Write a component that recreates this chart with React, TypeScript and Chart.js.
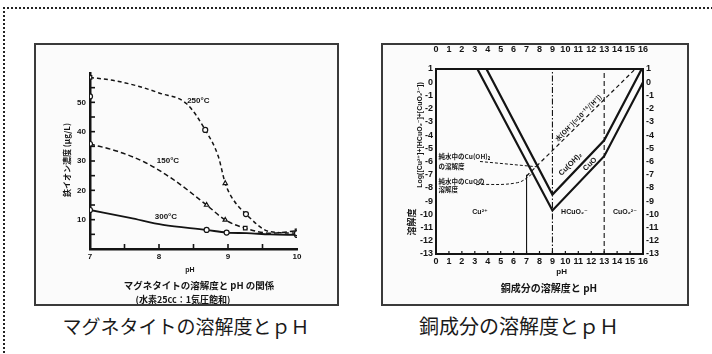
import React, { useEffect, useRef } from "react";
import { Chart, registerables } from "chart.js";
Chart.register(...registerables);

// ---------------- Magnetite solubility (left figure) ----------------
const magTickPH = [7, 8, 9, 10];
const magTickFe = [10, 20, 30, 40, 50];
const magMinorPH = [7.5, 8, 8.5, 9, 9.5];
const magMinorFe = [5, 10, 15, 20, 25, 30, 35, 40, 45, 50, 55];
const magSeriesNames = ["250°C", "150°C", "300°C"];

const magPH250 = [7.0, 7.33, 7.7, 8.0, 8.4, 8.67, 8.86, 8.96, 9.05, 9.26, 9.61, 10.0];
const magFe250 = [58.5, 57.5, 55.5, 53.2, 49.5, 40.6, 31.5, 22.4, 17.8, 11.9, 5.9, 5.4];
const magPH150 = [7.0, 7.4, 7.8, 8.2, 8.69, 8.96, 9.25, 9.61, 10.0];
const magFe150 = [35.8, 33.3, 29.5, 23.8, 15.0, 9.9, 7.1, 5.4, 6.2];
const magPH300 = [7.0, 7.58, 8.06, 8.69, 8.98, 9.27, 9.61, 10.0];
const magFe300 = [13.3, 10.6, 8.2, 6.5, 5.6, 5.4, 5.0, 4.8];
const magExtraPH = [7.0];
const magExtraFe = [52.0];

// marker styles (style config, not data)
const mk250 = ["rect", "", "", "", "", "circle", "", "triangle", "", "circle", "", "circle"];
const mk150 = ["circle", "", "", "", "triangle", "triangle", "rect", "", "rect"];
const mk300 = ["circle", "", "", "circle", "circle", "", "", "circle"];

// ---------------- Copper solubility (right figure) ----------------
const cuTickPH = [0, 1, 2, 3, 4, 5, 6, 7, 8, 9, 10, 11, 12, 13, 14, 15, 16];
const cuTickLog = [1, 0, -1, -2, -3, -4, -5, -6, -7, -8, -9, -10, -11, -12, -13];
const cuSpecies = ["Cu²⁺", "HCuO₂⁻", "CuO₂²⁻"];

const cuoPH = [3.2, 9, 13, 16];
const cuoLog = [1, -9.7, -5.6, 0];
const cuohPH = [3.9, 9, 13, 15.9];
const cuohLog = [1, -8.5, -4.4, 1];
const ohPH = [7, 15.4];
const ohLog = [-7.1, 1];
const bound7PH = [7, 7];
const bound7Log = [-13, -7];
const bound9PH = [9, 9];
const bound9Log = [-13, 1];
const bound13PH = [13, 13];
const bound13Log = [-13, 1];
const arrow1PH = [3.4, 7.8];
const arrow1Log = [-6.0, -6.4];
const arrow2PH = [3.1, 6.3, 7.5];
const arrow2Log = [-7.75, -7.6, -6.9];

const INK = "#141414";
const pts = (xs: number[], ys: number[]) => xs.map((x, i) => ({ x, y: ys[i] }));

type Txt = { x: number; y: number; t: string; f: string; r?: number; a?: CanvasTextAlign; px?: boolean };
type Tk = { id: string; vals: number[]; len: number; w: number };

function makeDeco(texts: Txt[], ticks: Tk[]) {
  return {
    id: "deco",
    afterDatasetsDraw(chart: any) {
      const ctx = chart.ctx as CanvasRenderingContext2D;
      const ca = chart.chartArea;
      ctx.save();
      ctx.strokeStyle = INK;
      for (const tk of ticks) {
        const s = chart.scales[tk.id];
        ctx.lineWidth = tk.w;
        for (const v of tk.vals) {
          ctx.beginPath();
          if (s.isHorizontal()) {
            const X = s.getPixelForValue(v);
            const top = s.position === "top";
            const Y = top ? ca.top : ca.bottom;
            ctx.moveTo(X, Y);
            ctx.lineTo(X, Y + (top ? tk.len : -tk.len));
          } else {
            const Y = s.getPixelForValue(v);
            const right = s.position === "right";
            const X = right ? ca.right : ca.left;
            ctx.moveTo(X, Y);
            ctx.lineTo(X + (right ? -tk.len : tk.len), Y);
          }
          ctx.stroke();
        }
      }
      ctx.fillStyle = INK;
      ctx.textBaseline = "middle";
      for (const it of texts) {
        const X = it.px ? it.x : chart.scales.x.getPixelForValue(it.x);
        const Y = it.px ? it.y : chart.scales.y.getPixelForValue(it.y);
        ctx.save();
        ctx.translate(X, Y);
        if (it.r) ctx.rotate((it.r * Math.PI) / 180);
        ctx.font = it.f;
        ctx.textAlign = it.a || "center";
        ctx.fillText(it.t, 0, 0);
        ctx.restore();
      }
      ctx.restore();
    },
  };
}

const JP = '"Noto Sans CJK JP", "Noto Sans", sans-serif';
const LAT = '"Liberation Sans", "DejaVu Sans", sans-serif';

function MagChart() {
  const ref = useRef<HTMLCanvasElement | null>(null);
  useEffect(() => {
    if (!ref.current) return;
    const marker = (mk: string[]) => ({
      pointStyle: mk.map((m) => (m ? m : "circle")),
      pointRadius: mk.map((m) => (m ? 2.5 : 0)),
      pointBackgroundColor: "#ffffff",
      pointBorderColor: INK,
      pointBorderWidth: 1.2,
    });
    const tickFont = { family: LAT, size: 8, weight: "bold" as const };
    const chart = new Chart(ref.current, {
      type: "scatter",
      data: {
        datasets: [
          {
            label: magSeriesNames[0],
            data: pts(magPH250, magFe250),
            showLine: true,
            borderColor: INK,
            borderWidth: 1.5,
            borderDash: [4, 3],
            cubicInterpolationMode: "monotone",
            ...marker(mk250),
          } as any,
          {
            label: magSeriesNames[1],
            data: pts(magPH150, magFe150),
            showLine: true,
            borderColor: INK,
            borderWidth: 1.5,
            borderDash: [5, 3],
            cubicInterpolationMode: "monotone",
            ...marker(mk150),
          } as any,
          {
            label: magSeriesNames[2],
            data: pts(magPH300, magFe300),
            showLine: true,
            borderColor: INK,
            borderWidth: 1.8,
            cubicInterpolationMode: "monotone",
            ...marker(mk300),
          } as any,
          {
            label: "extra",
            data: pts(magExtraPH, magExtraFe),
            showLine: false,
            ...marker(["circle"]),
          } as any,
        ],
      },
      options: {
        animation: false,
        responsive: false,
        devicePixelRatio: 1,
        layout: { padding: { top: 28, right: 40, left: 0, bottom: 0 } },
        plugins: { legend: { display: false }, tooltip: { enabled: false } },
        scales: {
          x: {
            type: "linear",
            min: 7,
            max: 10,
            afterBuildTicks: (s: any) => {
              s.ticks = magTickPH.map((v) => ({ value: v }));
            },
            afterFit: (s: any) => {
              s.height = 55;
            },
            ticks: { font: tickFont, color: INK, padding: 3, maxRotation: 0, autoSkip: false },
            grid: { display: false, drawTicks: false },
            border: { color: INK, width: 2.5 },
          },
          y: {
            type: "linear",
            min: 0,
            max: 60,
            afterBuildTicks: (s: any) => {
              s.ticks = magTickFe.map((v) => ({ value: v }));
            },
            afterFit: (s: any) => {
              s.width = 54;
            },
            ticks: { font: tickFont, color: INK, padding: 4, autoSkip: false },
            grid: { display: false, drawTicks: false },
            border: { color: INK, width: 2.5 },
          },
        },
      },
      plugins: [
        makeDeco(
          [
            { x: 8.57, y: 50.4, t: magSeriesNames[0], f: `bold 8px ${LAT}` },
            { x: 8.13, y: 29.9, t: magSeriesNames[1], f: `bold 8px ${LAT}` },
            { x: 8.1, y: 10.9, t: magSeriesNames[2], f: `bold 8px ${LAT}` },
            { x: 31, y: 115, t: "鉄イオン濃度 (μg/L)", f: `bold 8px ${JP}`, r: -90, px: true },
            { x: 154, y: 225, t: "pH", f: `bold 7px ${LAT}`, px: true },
            { x: 163, y: 240, t: "マグネタイトの溶解度と pH の関係", f: `bold 9.5px ${JP}`, px: true },
            { x: 147, y: 255, t: "(水素25cc：1気圧飽和)", f: `bold 9px ${JP}`, px: true },
          ],
          [
            { id: "x", vals: magMinorPH, len: 5, w: 1.6 },
            { id: "y", vals: magMinorFe, len: 5, w: 1.6 },
          ]
        ),
      ],
    });
    return () => chart.destroy();
  }, []);
  return <canvas ref={ref} width={301} height={259} style={{ display: "block", width: 301, height: 259 }} />;
}

function CuChart() {
  const ref = useRef<HTMLCanvasElement | null>(null);
  useEffect(() => {
    if (!ref.current) return;
    const tickFont = { family: LAT, size: 9, weight: "bold" as const };
    const line = (label: string, xs: number[], ys: number[], w: number, dash: number[] = [], tension = 0) =>
      ({
        label,
        data: pts(xs, ys),
        showLine: true,
        borderColor: INK,
        borderWidth: w,
        borderDash: dash,
        pointRadius: 0,
        tension,
      } as any);
    const axisCommon = (pos: string, vals: number[], size: number, pad: number) => ({
      type: "linear" as const,
      position: pos,
      afterBuildTicks: (s: any) => {
        s.ticks = vals.map((v) => ({ value: v }));
      },
      afterFit: (s: any) => {
        if (pos === "top" || pos === "bottom") s.height = size;
        else s.width = size;
      },
      ticks: { font: tickFont, color: INK, padding: pad, maxRotation: 0, autoSkip: false },
      grid: { display: false, drawTicks: false },
      border: { color: INK, width: 2 },
    });
    const chart = new Chart(ref.current, {
      type: "scatter",
      data: {
        datasets: [
          line("CuO", cuoPH, cuoLog, 2.2),
          line("Cu(OH)2", cuohPH, cuohLog, 2.2),
          line("OH", ohPH, ohLog, 1.2, [4, 3]),
          line("pH7", bound7PH, bound7Log, 1.1),
          line("pH9", bound9PH, bound9Log, 1.1, [6, 2, 1.5, 2]),
          line("pH13", bound13PH, bound13Log, 1.1, [5, 3]),
          line("arrow1", arrow1PH, arrow1Log, 1, [3, 2]),
          line("arrow2", arrow2PH, arrow2Log, 1, [3, 2], 0.4),
        ],
      },
      options: {
        animation: false,
        responsive: false,
        devicePixelRatio: 1,
        layout: { padding: 0 },
        plugins: { legend: { display: false }, tooltip: { enabled: false } },
        scales: {
          x: { ...axisCommon("bottom", cuTickPH, 50, 2), min: 0, max: 16 },
          x2: { ...axisCommon("top", cuTickPH, 24, 14), min: 0, max: 16 },
          y: { ...axisCommon("left", cuTickLog, 53, 3), min: -13, max: 1 },
          y2: { ...axisCommon("right", cuTickLog, 44, 3), min: -13, max: 1 },
        } as any,
      },
      plugins: [
        makeDeco(
          [
            { x: 0.2, y: -5.65, t: "純水中のCu(OH)₂", f: `bold 6.5px ${JP}`, a: "left" },
            { x: 0.2, y: -6.35, t: "の溶解度", f: `bold 6.5px ${JP}`, a: "left" },
            { x: 0.2, y: -7.5, t: "純水中のCuOの", f: `bold 6.5px ${JP}`, a: "left" },
            { x: 0.2, y: -8.15, t: "溶解度", f: `bold 6.5px ${JP}`, a: "left" },
            { x: 3.4, y: -9.85, t: cuSpecies[0], f: `bold 7px ${LAT}` },
            { x: 10.7, y: -9.85, t: cuSpecies[1], f: `bold 7px ${LAT}` },
            { x: 14.6, y: -9.85, t: cuSpecies[2], f: `bold 7px ${LAT}` },
            { x: 10.4, y: -6.2, t: "Cu(OH)₂", f: `bold 7.5px ${LAT}`, r: -45 },
            { x: 11.9, y: -6.2, t: "CuO", f: `bold 7.5px ${LAT}`, r: -45 },
            { x: 11.0, y: -2.7, t: "水(OH⁻)(=10⁻¹⁴/[H⁺])", f: `bold 6.5px ${JP}`, r: -45 },
            { x: 178.7, y: 226.7, t: "pH", f: `bold 8px ${LAT}`, px: true },
            { x: 37, y: 90, t: "Log([Cu²⁺]+[HCuO₂⁻]+[CuO₂²⁻])", f: `bold 7px ${LAT}`, r: -90, px: true },
            { x: 29, y: 177, t: "溶解度", f: `bold 9px ${JP}`, r: -90, px: true },
            { x: 166, y: 243, t: "銅成分の溶解度と pH", f: `bold 10px ${JP}`, px: true },
          ],
          [{ id: "x", vals: cuTickPH, len: 3, w: 1.2 }]
        ),
      ],
    });
    return () => chart.destroy();
  }, []);
  return <canvas ref={ref} width={304} height={259} style={{ display: "block", width: 304, height: 259 }} />;
}

export default function App() {
  const frame = {
    position: "absolute" as const,
    top: 43,
    height: 259,
    border: "2px solid #3a3a3a",
    background: "#fbfbfb",
    overflow: "hidden",
  };
  const cap = {
    position: "absolute" as const,
    top: 313,
    fontFamily: JP,
    lineHeight: "26px",
    color: "#1a1a1a",
    whiteSpace: "nowrap" as const,
    textAlign: "center" as const,
  };
  return (
    <div style={{ position: "absolute", left: 0, top: 0, width: 712, height: 354, background: "#fff", overflow: "hidden" }}>
      <div
        style={{
          position: "absolute",
          left: 3,
          top: 7,
          width: 740,
          height: 380,
          borderTop: "2px dotted #222",
          borderLeft: "2px dotted #222",
        }}
      />
      <div style={{ ...frame, left: 34, width: 301 }}>
        <MagChart />
      </div>
      <div style={{ ...frame, left: 381, width: 304 }}>
        <CuChart />
      </div>
      <div style={{ ...cap, fontSize: 19, left: 36, width: 300 }}>マグネタイトの溶解度とｐＨ</div>
      <div style={{ ...cap, fontSize: 20, left: 369, width: 300 }}>銅成分の溶解度とｐＨ</div>
    </div>
  );
}
